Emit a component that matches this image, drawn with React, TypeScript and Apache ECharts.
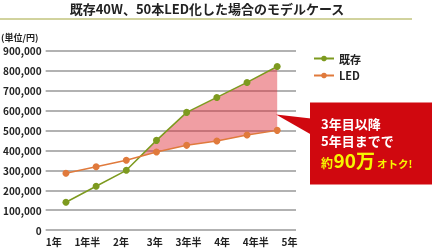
import React, { useEffect, useRef } from "react";
import * as echarts from "echarts";

const xLabels = ["1年", "1年半", "2年", "3年", "3年半", "4年", "4年半", "5年"];
const existingValues = [140000, 220000, 300000, 450000, 590000, 665000, 740000, 820000];
const ledValues = [285000, 318000, 350000, 392000, 425000, 447000, 477000, 500000];
const seriesNames = ["既存", "LED"];
const titleText = "既存40W、50本LED化した場合のモデルケース";
const unitText = "(単位/円)";

const FONT = '"Noto Sans CJK JP", "Noto Sans", sans-serif';
const YELLOW = "#f6f600";

export default function App() {
  const ref = useRef<HTMLDivElement>(null);
  useEffect(() => {
    if (!ref.current) return;
    const chart = echarts.init(ref.current, undefined, { renderer: "svg" });
    const idx = existingValues.map((_, i) => i);
    const option: any = {
      animation: false,
      textStyle: { fontFamily: FONT },
      grid: [
        { left: 43, right: 136, top: 50.5, bottom: 17.8 },
        { left: 36.85, right: 125.65, top: 50.5, bottom: 17.8 },
      ],
      xAxis: [
        {
          type: "value",
          gridIndex: 0,
          min: -0.672,
          max: 7.623,
          axisLine: { show: false },
          axisTick: { show: false },
          axisLabel: { show: false },
          splitLine: { show: false },
        },
        {
          type: "category",
          gridIndex: 1,
          data: xLabels,
          boundaryGap: true,
          axisLine: { show: false },
          axisTick: { show: false },
          axisLabel: {
            margin: 6,
            fontSize: 10,
            lineHeight: 11,
            fontWeight: "bold",
            color: "#222",
            fontFamily: FONT,
            interval: 0,
          },
        },
      ],
      yAxis: [
        {
          type: "value",
          gridIndex: 0,
          min: 0,
          max: 900000,
          interval: 100000,
          axisLine: { show: false },
          axisTick: { show: false },
          axisLabel: {
            margin: 4,
            fontSize: 10,
            fontWeight: "bold",
            color: "#222",
            fontFamily: FONT,
            formatter: (v: number) => v.toLocaleString("en-US"),
          },
          splitLine: { lineStyle: { color: "#b2b2b2", width: 2 } },
        },
        {
          type: "value",
          gridIndex: 1,
          min: 0,
          max: 900000,
          show: false,
          splitLine: { show: false },
        },
      ],
      legend: {
        data: seriesNames,
        orient: "vertical",
        left: 308,
        top: 48,
        itemWidth: 20,
        itemHeight: 7,
        itemGap: 6,
        textStyle: { fontSize: 11, fontWeight: "bold", color: "#222", fontFamily: FONT },
      },
      series: [
        {
          type: "custom",
          xAxisIndex: 0,
          yAxisIndex: 0,
          z: 1,
          data: [[0, 0]],
          silent: true,
          renderItem: (_params: any, api: any) => {
            const pts: number[][] = [];
            let start = -1;
            for (let i = 0; i < idx.length - 1; i++) {
              const d0 = existingValues[i] - ledValues[i];
              const d1 = existingValues[i + 1] - ledValues[i + 1];
              if (d0 < 0 && d1 >= 0) {
                const t = -d0 / (d1 - d0);
                const xv = i + t;
                const yv = ledValues[i] + t * (ledValues[i + 1] - ledValues[i]);
                pts.push(api.coord([xv, yv]));
                start = i + 1;
                break;
              }
            }
            if (start < 0) return null;
            for (let i = start; i < idx.length; i++) pts.push(api.coord([i, existingValues[i]]));
            for (let i = idx.length - 1; i >= start; i--) pts.push(api.coord([i, ledValues[i]]));
            return {
              type: "polygon",
              shape: { points: pts },
              style: { fill: "rgba(222, 40, 52, 0.45)" },
            };
          },
        },
        {
          name: seriesNames[0],
          type: "line",
          xAxisIndex: 0,
          yAxisIndex: 0,
          z: 3,
          data: existingValues.map((v, i) => [i, v]),
          symbol: "circle",
          symbolSize: 7,
          lineStyle: { color: "#7d9a1f", width: 1.5 },
          itemStyle: { color: "#7d9a1f" },
        },
        {
          name: seriesNames[1],
          type: "line",
          xAxisIndex: 0,
          yAxisIndex: 0,
          z: 3,
          data: ledValues.map((v, i) => [i, v]),
          symbol: "circle",
          symbolSize: 7,
          lineStyle: { color: "#e07a3c", width: 1.5 },
          itemStyle: { color: "#e07a3c" },
        },
      ],
      graphic: [
        {
          type: "text",
          x: 207,
          y: 8.5,
          style: {
            text: titleText,
            fontSize: 13,
            fontWeight: "bold",
            fill: "#222",
            fontFamily: FONT,
            align: "center",
            verticalAlign: "middle",
          },
        },
        {
          type: "line",
          shape: { x1: 0, y1: 19, x2: 412, y2: 19 },
          style: { stroke: "#a3a63c", lineWidth: 1 },
        },
        {
          type: "text",
          x: 1,
          y: 37,
          style: {
            text: unitText,
            fontSize: 9,
            fontWeight: "bold",
            fill: "#222",
            fontFamily: FONT,
            verticalAlign: "middle",
          },
        },
        {
          type: "polygon",
          z: 10,
          shape: { points: [[276, 114.5], [311, 118.5], [311, 134.5]] },
          style: { fill: "#d0080f" },
        },
        {
          type: "rect",
          z: 10,
          shape: { x: 310, y: 102.5, width: 122, height: 82 },
          style: { fill: "#d0080f" },
        },
        {
          type: "text",
          z: 11,
          x: 321,
          y: 123,
          style: {
            text: "3年目以降",
            fontSize: 13,
            lineHeight: 14,
            fontWeight: "bold",
            fill: "#ffffff",
            fontFamily: FONT,
            verticalAlign: "middle",
          },
        },
        {
          type: "text",
          z: 11,
          x: 321,
          y: 140.5,
          style: {
            text: "5年目までで",
            fontSize: 13,
            lineHeight: 14,
            fontWeight: "bold",
            fill: "#ffffff",
            fontFamily: FONT,
            verticalAlign: "middle",
          },
        },
        {
          type: "text",
          z: 11,
          x: 321,
          y: 168.5,
          style: {
            text: "約",
            fontSize: 12,
            lineHeight: 13,
            fontWeight: "bold",
            fill: YELLOW,
            fontFamily: FONT,
            verticalAlign: "bottom",
          },
        },
        {
          type: "text",
          z: 11,
          x: 333.5,
          y: 169,
          style: {
            text: "90万",
            fontSize: 19,
            lineHeight: 19,
            fontWeight: "bold",
            fill: YELLOW,
            fontFamily: FONT,
            verticalAlign: "bottom",
          },
        },
        {
          type: "text",
          z: 11,
          x: 377,
          y: 168.5,
          style: {
            text: "オトク!",
            fontSize: 10.5,
            lineHeight: 11,
            fontWeight: "bold",
            fill: YELLOW,
            fontFamily: FONT,
            verticalAlign: "bottom",
          },
        },
      ],
    };
    chart.setOption(option);
    return () => chart.dispose();
  }, []);
  return <div ref={ref} style={{ width: 432, height: 248, position: "fixed", left: 0, top: 0 }} />;
}
